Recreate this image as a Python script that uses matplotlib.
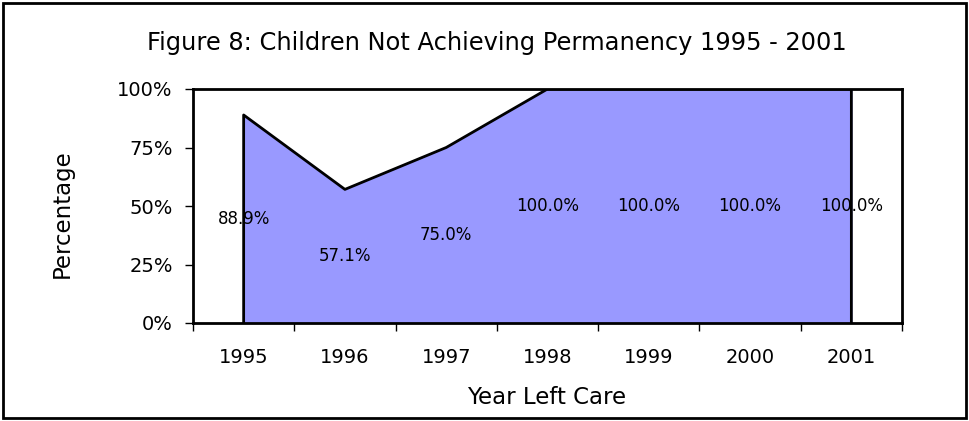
import numpy as np
import matplotlib.pyplot as plt
from matplotlib.patches import Rectangle

# Data
years = ['1995', '1996', '1997', '1998', '1999', '2000', '2001']
pct = [88.9, 57.1, 75.0, 100.0, 100.0, 100.0, 100.0]
y_ticks = [0, 25, 50, 75, 100]

W, H = 969, 421
fig = plt.figure(figsize=(W/100, H/100), dpi=100)
ax = fig.add_axes([193/W, 1 - 323/H, (902-193)/W, (323-89)/H])

x = np.arange(len(years))
ax.fill_between(x, 0, pct, color='#9999FF', zorder=2)
# outline of the area
ax.plot(np.r_[x[0], x, x[-1]], np.r_[0, pct, 0], color='black', lw=2, zorder=3)

for xi, v in zip(x, pct):
    ax.text(xi, v / 2, f'{v:.1f}%', ha='center', va='center', fontsize=12, zorder=4)

ax.set_xlim(-0.5, len(years) - 0.5)
ax.set_ylim(0, 100)
ax.set_yticks(y_ticks)
ax.set_yticklabels([f'{t}%' for t in y_ticks], fontsize=14)
ax.set_xticks(x)
ax.set_xticklabels(years, fontsize=14)
ax.set_xticks(np.arange(-0.5, len(years)), minor=True)
ax.tick_params(axis='x', which='major', length=0, pad=18)
ax.tick_params(axis='x', which='minor', length=5.5, width=1)
ax.tick_params(axis='y', length=5.5, width=1, pad=9)
for s in ax.spines.values():
    s.set_linewidth(2)
    s.set_zorder(5)

fig.text(547/W, 1 - 398/H, 'Year Left Care', ha='center', va='center', fontsize=16.5)
fig.text(62/W, 1 - 214/H, 'Percentage', ha='center', va='center', rotation=90, fontsize=16.5)
fig.text(497/W, 1 - 43/H, 'Figure 8: Children Not Achieving Permanency 1995 - 2001',
         ha='center', va='center', fontsize=17.4)

fig.patches.append(Rectangle((0.003, 0.006), 0.994, 0.988, transform=fig.transFigure,
                             fill=False, edgecolor='black', lw=2))

fig.savefig('out.png', dpi=100)
